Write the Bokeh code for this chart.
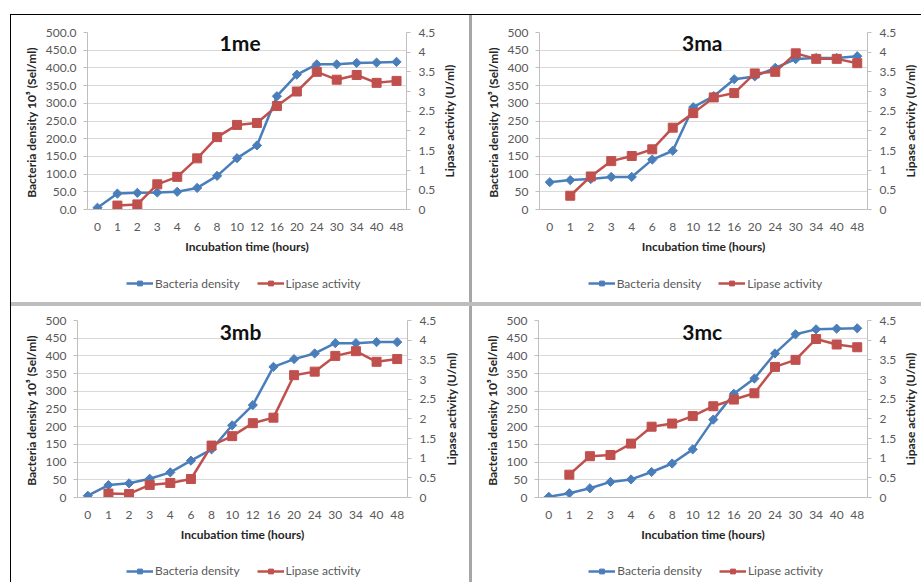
import math
from bokeh.plotting import figure
from bokeh.models import (Range1d, FactorRange, LinearAxis, SingleIntervalTicker, FixedTicker,
                          NumeralTickFormatter, Legend, LegendItem, Label, Spacer)
from bokeh.layouts import row, column
from bokeh.embed import file_html
from bokeh.resources import INLINE

# ---------------- data ----------------
hours = ["0", "1", "2", "3", "4", "6", "8", "10", "12", "16", "20", "24", "30", "34", "40", "48"]
lipase_hours = hours[1:]

density_1me = [5, 45, 47, 48, 50, 61, 95, 145, 181, 320, 381, 410, 410, 414, 415, 417]
lipase_1me = [0.10, 0.13, 0.64, 0.83, 1.30, 1.84, 2.15, 2.20, 2.63, 3.00, 3.50, 3.30, 3.42, 3.22, 3.27]

density_3ma = [77, 83, 86, 92, 92, 141, 166, 289, 320, 368, 376, 400, 425, 428, 428, 433]
lipase_3ma = [0.35, 0.84, 1.23, 1.36, 1.53, 2.08, 2.45, 2.85, 2.96, 3.46, 3.50, 3.97, 3.83, 3.83, 3.72]

density_3mb = [5, 35, 40, 53, 71, 104, 136, 204, 261, 369, 391, 407, 436, 436, 439, 439]
lipase_3mb = [0.10, 0.09, 0.32, 0.37, 0.47, 1.32, 1.56, 1.89, 2.03, 3.11, 3.20, 3.60, 3.72, 3.45, 3.52]

density_3mc = [2, 12, 26, 44, 51, 72, 96, 136, 220, 293, 336, 407, 461, 475, 477, 478]
lipase_3mc = [0.58, 1.05, 1.08, 1.37, 1.80, 1.88, 2.07, 2.32, 2.49, 2.65, 3.32, 3.50, 4.03, 3.89, 3.82]

panel_names = ["1me", "3ma", "3mb", "3mc"]
series_names = ["Bacteria density", "Lipase activity"]
x_title = "Incubation time (hours)"
y_title = "Bacteria density  10\u2075 (Sel/ml)"
y2_title = "Lipase activity (U/ml)"

# ---------------- style ----------------
FONT = "Lato"
FS = "12px"
BLUE = "#4a7ebb"
RED = "#c0504d"
TICK_COLOR = "#595959"
TITLE_COLOR = "#262626"
AXIS_COLOR = "#bfbfbf"
GRID_COLOR = "#d9d9d9"
LINE_W = 2.5
BLUE_STYLE = dict(marker="square", angle=math.pi / 4, size=6.5, fill_color=BLUE, line_color=BLUE)
RED_STYLE = dict(marker="square", size=9, fill_color=RED, line_color=RED)


def plain(fig):
    fig.outline_line_color = None
    fig.background_fill_color = "white"
    fig.border_fill_color = "white"


def add_series(p, density, lipase, y2_name):
    bl_ = p.line(x=hours, y=density, line_color=BLUE, line_width=LINE_W)
    bs_ = p.scatter(x=hours, y=density, **BLUE_STYLE)
    rl_ = p.line(x=lipase_hours, y=lipase, y_range_name=y2_name, line_color=RED, line_width=LINE_W)
    rs_ = p.scatter(x=lipase_hours, y=lipase, y_range_name=y2_name, **RED_STYLE)
    return [bl_, bs_], [rl_, rs_]


def make_panel(name, density, lipase, width, height, borders, left_fmt, title_xy):
    bl, br, bt, bb = borders
    p = figure(width=width, height=height,
               x_range=FactorRange(factors=hours),
               y_range=Range1d(0, 500),
               output_backend="svg", toolbar_location=None,
               min_border_left=bl, min_border_right=br,
               min_border_top=bt, min_border_bottom=bb)
    plain(p)
    p.extra_y_ranges = {"lip": Range1d(0, 4.5)}

    lt = SingleIntervalTicker(interval=50, num_minor_ticks=0)
    ya = p.yaxis[0]
    ya.ticker = lt
    ya.formatter = NumeralTickFormatter(format=left_fmt)
    ya.axis_label = y_title
    ya.axis_label_standoff = 4
    ya.major_label_standoff = 7
    p.ygrid.ticker = lt
    p.ygrid.grid_line_color = GRID_COLOR
    p.xgrid.grid_line_color = None

    ra = LinearAxis(y_range_name="lip",
                    ticker=SingleIntervalTicker(interval=0.5, num_minor_ticks=0),
                    formatter=NumeralTickFormatter(format="0.[0]"))
    ra.major_label_standoff = 8
    p.add_layout(ra, "right")

    for ax in [ya, ra]:
        ax.major_tick_out = 4
        ax.major_tick_in = 0
        ax.minor_tick_line_color = None

    xa = p.xaxis[0]
    xa.axis_label = x_title
    xa.major_tick_out = 0
    xa.major_tick_in = 0
    xa.major_label_standoff = 13
    xa.axis_label_standoff = 5

    for ax in [ya, ra, xa]:
        ax.axis_line_color = AXIS_COLOR
        ax.major_tick_line_color = AXIS_COLOR if ax is not xa else None
        ax.major_label_text_font = FONT
        ax.major_label_text_font_size = FS
        ax.major_label_text_color = TICK_COLOR
        ax.axis_label_text_font = FONT
        ax.axis_label_text_font_size = FS
        ax.axis_label_text_font_style = "bold"
        ax.axis_label_text_color = TITLE_COLOR

    add_series(p, density, lipase, "lip")

    p.add_layout(Label(x=title_xy[0], y=title_xy[1], x_units="screen", y_units="screen",
                       text=name, text_align="center", text_baseline="middle",
                       text_font=FONT, text_font_size="21px", text_font_style="bold",
                       text_color="#111111"))
    return p


def make_y2_title(width, height, border_left, border_top, border_bottom):
    # narrow strip to the right of a chart that carries the secondary-axis title,
    # written bottom-to-top like the reference
    t = figure(width=width, height=height, x_range=Range1d(0, 1), y_range=Range1d(0, 4.5),
               x_axis_type=None, min_border_left=border_left, min_border_right=0,
               min_border_top=border_top, min_border_bottom=border_bottom,
               output_backend="svg", toolbar_location=None)
    plain(t)
    t.xgrid.grid_line_color = None
    t.ygrid.grid_line_color = None
    ax = t.yaxis[0]
    ax.ticker = FixedTicker(ticks=[])
    ax.axis_line_color = None
    ax.major_tick_line_color = None
    ax.minor_tick_line_color = None
    ax.major_tick_out = 0
    ax.major_label_standoff = 0
    ax.axis_label = y2_title
    ax.axis_label_standoff = 0
    ax.axis_label_text_font = FONT
    ax.axis_label_text_font_size = FS
    ax.axis_label_text_font_style = "bold"
    ax.axis_label_text_color = TITLE_COLOR
    return t


def make_legend(width, height, density, lipase, loc):
    # a strip under the chart (its frame lines up with the chart's frame);
    # the series are drawn again outside its visible range, so only the legend shows
    lf = figure(width=width, height=height, x_range=FactorRange(factors=hours),
                y_range=Range1d(1000, 1001),
                x_axis_type=None, y_axis_type=None, min_border=0,
                output_backend="svg", toolbar_location=None)
    lf.extra_y_ranges = {"lip": Range1d(1000, 1001)}
    plain(lf)
    blue_r, red_r = add_series(lf, density, lipase, "lip")
    legend = Legend(items=[LegendItem(label=series_names[0], renderers=blue_r),
                           LegendItem(label=series_names[1], renderers=red_r)],
                    location=loc, orientation="horizontal",
                    glyph_width=27, glyph_height=12, label_standoff=2, spacing=17,
                    padding=0, margin=0, border_line_color=None,
                    background_fill_alpha=0,
                    label_text_font=FONT, label_text_font_size=FS,
                    label_text_color=TICK_COLOR)
    lf.add_layout(legend, "center")
    return lf


p1 = make_panel(panel_names[0], density_1me, lipase_1me, 427, 257, (76, 32, 17, 63), "0.0",
                (152.6, 166.6))
p2 = make_panel(panel_names[1], density_3ma, lipase_3ma, 427, 257, (67, 32, 17, 63), "0",
                (162.7, 167.3))
p3 = make_panel(panel_names[2], density_3mb, lipase_3mb, 428, 247, (66, 32, 14, 56), "0",
                (163, 165.6))
p4 = make_panel(panel_names[3], density_3mc, lipase_3mc, 427, 247, (66, 32, 14, 56), "0",
                (163.7, 165.6))

l1 = make_legend(427, 30, density_1me, lipase_1me, (39, 11.2))
l2 = make_legend(427, 30, density_3ma, lipase_3ma, (48.7, 11.2))
l3 = make_legend(428, 29, density_3mb, lipase_3mb, (49, 3.8))
l4 = make_legend(427, 29, density_3mc, lipase_3mc, (50.3, 3.8))

t1 = make_y2_title(31, 287, 17, 17, 93)
t2 = make_y2_title(22, 287, 18, 17, 93)
t3 = make_y2_title(30, 276, 19, 14, 85)
t4 = make_y2_title(22, 276, 18, 14, 85)


def bar(w, h, color):
    return Spacer(width=w, height=h, styles={"background-color": color})


VGRAY = "#a6a6a6"
HGRAY = "#bdbdbd"
inner = column(
    bar(910, 1, "#000000"),
    row(column(p1, l1), t1, bar(3, 287, VGRAY), column(p2, l2), t2),
    bar(910, 4, HGRAY),
    row(column(p3, l3), t3, bar(3, 276, VGRAY), column(p4, l4), t4),
)
layout = column(
    Spacer(width=921, height=14),
    row(Spacer(width=10, height=568), bar(1, 568, "#000000"), inner),
)

open("out.html", "w").write(file_html(layout, INLINE))
